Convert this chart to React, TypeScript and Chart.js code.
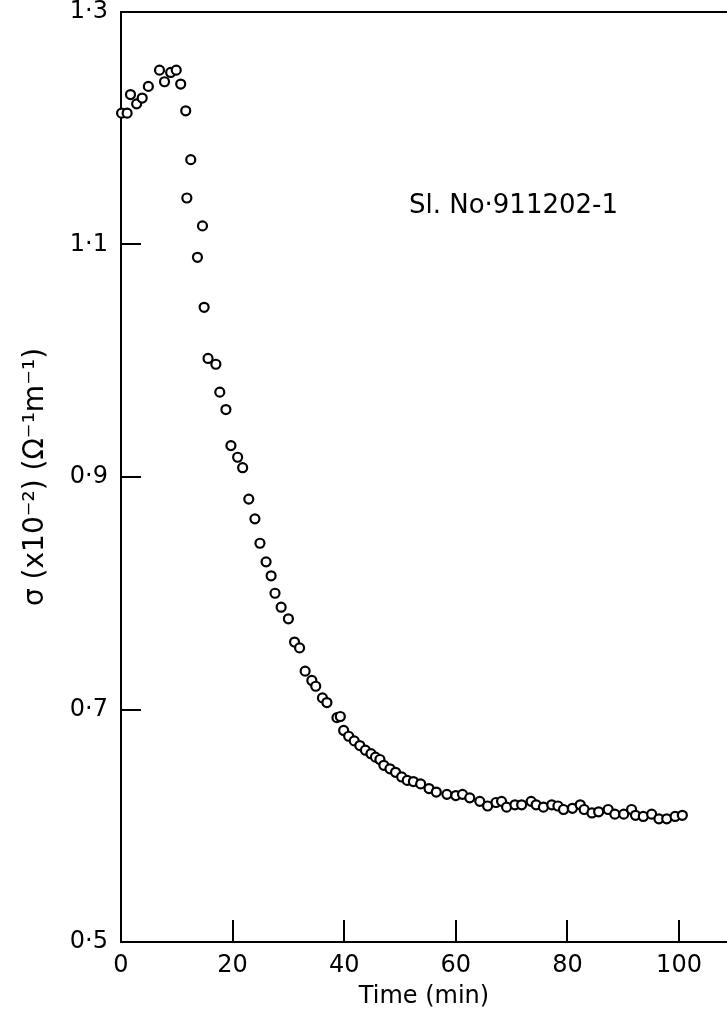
import React, { useEffect, useRef } from "react";
import { Chart, registerables } from "chart.js";

Chart.register(...registerables);

// Time (min)
const timeMin = [
  0.1, 1.1, 1.7, 2.8, 3.8, 4.9, 6.9, 7.8, 8.9, 9.9, 10.7, 11.6, 11.8, 12.5, 13.7, 14.6, 14.9, 15.6, 17.0, 17.7,
  18.8, 19.7, 20.9, 21.8, 22.9, 24.0, 24.9, 26.0, 26.9, 27.6, 28.7, 30.0, 31.1, 32.0, 33.0, 34.2, 34.9, 36.1, 36.9,
  38.7, 39.3, 39.9, 40.8, 41.8, 42.8, 43.8, 44.8, 45.6, 46.4, 47.1, 48.2, 49.2, 50.3, 51.3, 52.4, 53.7, 55.2, 56.5,
  58.4, 60.0, 61.2, 62.5, 64.3, 65.7, 67.2, 68.2, 69.1, 70.6, 71.8, 73.5, 74.4, 75.7, 77.2, 78.3, 79.3, 80.9, 82.3,
  83.0, 84.4, 85.6, 87.3, 88.5, 90.1, 91.5, 92.2, 93.6, 95.1, 96.4, 97.8, 99.3, 100.6,
];

// sigma (x10^-2) (ohm^-1 m^-1)
const sigma = [
  1.213, 1.213, 1.229, 1.221, 1.226, 1.236, 1.25, 1.24, 1.248, 1.25, 1.238, 1.215, 1.14, 1.173, 1.089, 1.116, 1.046,
  1.002, 0.997, 0.973, 0.958, 0.927, 0.917, 0.908, 0.881, 0.864, 0.843, 0.827, 0.815, 0.8, 0.788, 0.778, 0.758, 0.753,
  0.733, 0.725, 0.72, 0.71, 0.706, 0.693, 0.694, 0.682, 0.677, 0.673, 0.669, 0.665, 0.662, 0.659, 0.657, 0.652, 0.649,
  0.646, 0.642, 0.639, 0.638, 0.636, 0.632, 0.629, 0.627, 0.626, 0.627, 0.624, 0.621, 0.617, 0.62, 0.621, 0.616, 0.618,
  0.618, 0.621, 0.618, 0.616, 0.618, 0.617, 0.614, 0.615, 0.618, 0.614, 0.611, 0.612, 0.614, 0.61, 0.61, 0.614, 0.609,
  0.608, 0.61, 0.606, 0.606, 0.608, 0.609,
];

const xTickValues = [0, 20, 40, 60, 80, 100];
const yTickValues = [0.5, 0.7, 0.9, 1.1, 1.3];
const yTickLabels = ["0·5", "0·7", "0·9", "1·1", "1·3"];
const sampleLabel = "Sl. No·911202-1";
const sampleLabelAt = { x: 51.6, y: 1.127 };
const xTitle = "Time (min)";
const yTitle = "σ (x10⁻²) (Ω⁻¹m⁻¹)";

const W = 727;
const H = 1025;
const FONT = '"DejaVu Sans", sans-serif';

const decorPlugin = {
  id: "decor",
  afterDraw(chart: any) {
    const { ctx, chartArea, scales } = chart;
    const { left, top, right, bottom } = chartArea;
    const x = scales.x;
    const y = scales.y;
    ctx.save();
    ctx.strokeStyle = "#000";
    ctx.lineWidth = 2;
    ctx.beginPath();
    ctx.moveTo(left - 1, top);
    ctx.lineTo(right, top);
    xTickValues.forEach((v) => {
      if (v === xTickValues[0]) return;
      const px = Math.round(x.getPixelForValue(v));
      ctx.moveTo(px, bottom);
      ctx.lineTo(px, bottom - 22);
    });
    yTickValues.forEach((v, i) => {
      if (i === 0 || i === yTickValues.length - 1) return;
      const py = Math.round(y.getPixelForValue(v));
      ctx.moveTo(left, py);
      ctx.lineTo(left + 20, py);
    });
    ctx.stroke();
    ctx.fillStyle = "#000";
    ctx.font = `26px ${FONT}`;
    ctx.textAlign = "left";
    ctx.textBaseline = "alphabetic";
    ctx.fillText(sampleLabel, x.getPixelForValue(sampleLabelAt.x), y.getPixelForValue(sampleLabelAt.y));
    ctx.restore();
  },
};

export default function App() {
  const ref = useRef<HTMLCanvasElement | null>(null);
  useEffect(() => {
    if (!ref.current) return;
    const chart = new Chart(ref.current, {
      type: "scatter",
      data: {
        datasets: [
          {
            data: timeMin.map((t, i) => ({ x: t, y: sigma[i] })),
            showLine: false,
            pointStyle: "circle",
            pointRadius: 4.5,
            pointBorderWidth: 2.2,
            pointBackgroundColor: "#fff",
            pointBorderColor: "#000",
            clip: false,
          },
        ],
      },
      options: {
        animation: false,
        responsive: false,
        devicePixelRatio: 1,
        layout: { autoPadding: false, padding: { top: 12, right: 0, left: 0, bottom: 0 } },
        plugins: { legend: { display: false }, tooltip: { enabled: false } },
        scales: {
          x: {
            type: "linear",
            min: 0,
            max: 108.6,
            grid: { display: true, drawOnChartArea: false, drawTicks: false },
            border: { display: true, color: "#000", width: 2 },
            ticks: {
              color: "#000",
              font: { family: FONT, size: 24, lineHeight: 1 },
              padding: 12,
              maxRotation: 0,
              callback: (v: any) => String(v),
            },
            title: {
              display: true,
              text: xTitle,
              color: "#000",
              font: { family: FONT, size: 24, lineHeight: 1.2 },
              padding: { top: 0, bottom: 14 },
            },
            afterBuildTicks: (s: any) => {
              s.ticks = xTickValues.map((value) => ({ value }));
            },
            afterFit: (s: any) => {
              s.height = 83;
              s.paddingLeft = 0;
              s.paddingRight = 0;
            },
          },
          y: {
            type: "linear",
            min: 0.5,
            max: 1.3,
            grid: { display: true, drawOnChartArea: false, drawTicks: false },
            border: { display: true, color: "#000", width: 2 },
            ticks: {
              color: "#000",
              font: { family: FONT, size: 24, lineHeight: 1 },
              padding: 13,
              callback: (v: any) => {
                const i = yTickValues.findIndex((t) => Math.abs(t - v) < 1e-6);
                return i >= 0 ? yTickLabels[i] : "";
              },
            },
            title: {
              display: true,
              text: yTitle,
              color: "#000",
              font: { family: FONT, size: 28, lineHeight: 1.2 },
              padding: { top: 19, bottom: 0 },
            },
            afterBuildTicks: (s: any) => {
              s.ticks = yTickValues.map((value) => ({ value }));
            },
            afterFit: (s: any) => {
              s.width = 121;
              s.paddingTop = 0;
              s.paddingBottom = 0;
            },
          },
        },
      },
      plugins: [decorPlugin],
    });
    return () => chart.destroy();
  }, []);
  return (
    <div style={{ position: "absolute", left: 0, top: 0, width: W, height: H, background: "#fff" }}>
      <canvas ref={ref} width={W} height={H} style={{ display: "block", width: W, height: H }} />
    </div>
  );
}
